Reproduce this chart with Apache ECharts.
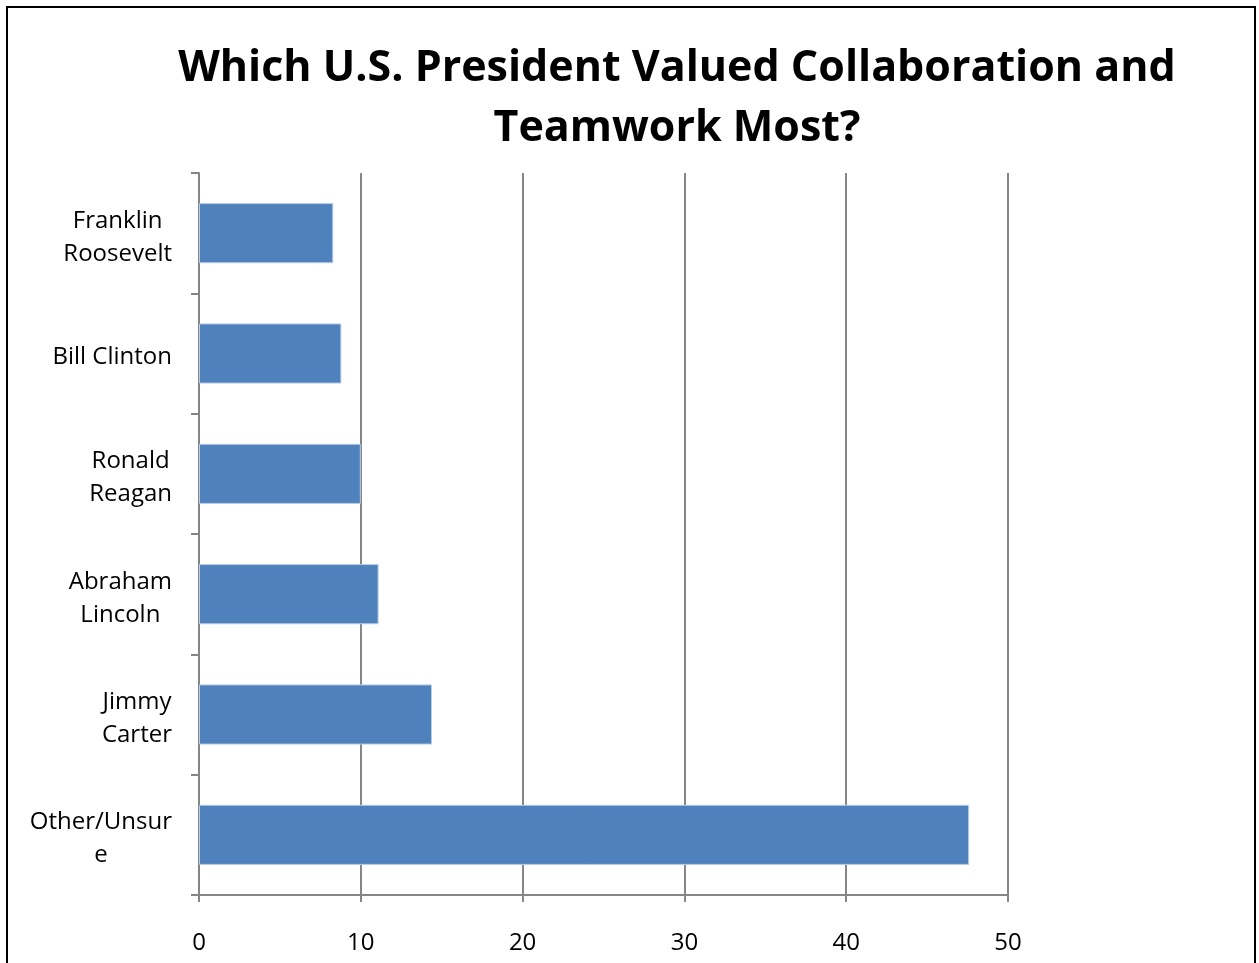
<!DOCTYPE html>
<html>
<head>
<meta charset="utf-8">
<script src="https://cdn.jsdelivr.net/npm/echarts@6/dist/echarts.min.js"></script>
<style>
  html, body { margin: 0; padding: 0; background: #fff; }
  #chart { width: 1259px; height: 963px; }
</style>
</head>
<body>
<div id="chart"></div>
<script>
// Survey answers, listed bottom to top as they appear on the category axis
const categories = ['Other/Unsur\ne', 'Jimmy\nCarter', 'Abraham\nLincoln', 'Ronald\nReagan', 'Bill Clinton', 'Franklin\nRoosevelt'];
const percentages = [47.6, 14.4, 11.1, 10.0, 8.8, 8.3];
const xTicks = { min: 0, max: 50, interval: 10 };

const chart = echarts.init(document.getElementById('chart'), null, { renderer: 'canvas' });

const labelFont = '"Open Sans", Lato, sans-serif';
const titleFont = '"Open Sans", Lato, sans-serif';
const axisGray = '#868686';

chart.setOption({
  animation: false,
  backgroundColor: '#ffffff',
  title: {
    text: 'Which U.S. President Valued Collaboration and\nTeamwork Most?',
    left: 672,
    top: 34,
    textAlign: 'center',
    textStyle: {
      fontFamily: titleFont,
      fontWeight: 'bold',
      fontSize: 43,
      lineHeight: 60,
      color: '#000000'
    }
  },
  graphic: [{
    type: 'rect',
    shape: { x: 7, y: 7, width: 1248, height: 1000 },
    style: { fill: 'none', stroke: '#000000', lineWidth: 2 },
    silent: true
  }],
  grid: { left: 199, top: 173, right: 251, bottom: 68, containLabel: false },
  xAxis: {
    type: 'value',
    min: xTicks.min,
    max: xTicks.max,
    interval: xTicks.interval,
    axisLine: { show: true, lineStyle: { color: axisGray, width: 2 } },
    axisTick: { show: true, length: 7, lineStyle: { color: axisGray, width: 2 } },
    splitLine: { show: true, lineStyle: { color: axisGray, width: 2 } },
    axisLabel: {
      margin: 36,
      color: '#000000',
      fontFamily: labelFont,
      fontSize: 24
    }
  },
  yAxis: {
    type: 'category',
    data: categories,
    axisLine: { show: true, lineStyle: { color: axisGray, width: 2 } },
    axisTick: { show: true, length: 8, lineStyle: { color: axisGray, width: 2 } },
    splitLine: { show: false },
    axisLabel: {
      margin: 27,
      color: '#000000',
      fontFamily: labelFont,
      fontSize: 24,
      lineHeight: 33,
      padding: [8, 0, 0, 0],
      formatter: function (v) {
        return v.split('\n').map(function (s) { return '{c|' + s + '}'; }).join('\n');
      },
      rich: {
        c: { align: 'center', fontFamily: labelFont, fontSize: 24, lineHeight: 33, color: '#000000' }
      }
    }
  },
  series: [{
    type: 'bar',
    data: percentages,
    barWidth: '50%',
    itemStyle: {
      color: '#4F81BD',
      borderColor: '#B9CDE5',
      borderWidth: 1
    }
  }]
});
</script>
</body>
</html>
